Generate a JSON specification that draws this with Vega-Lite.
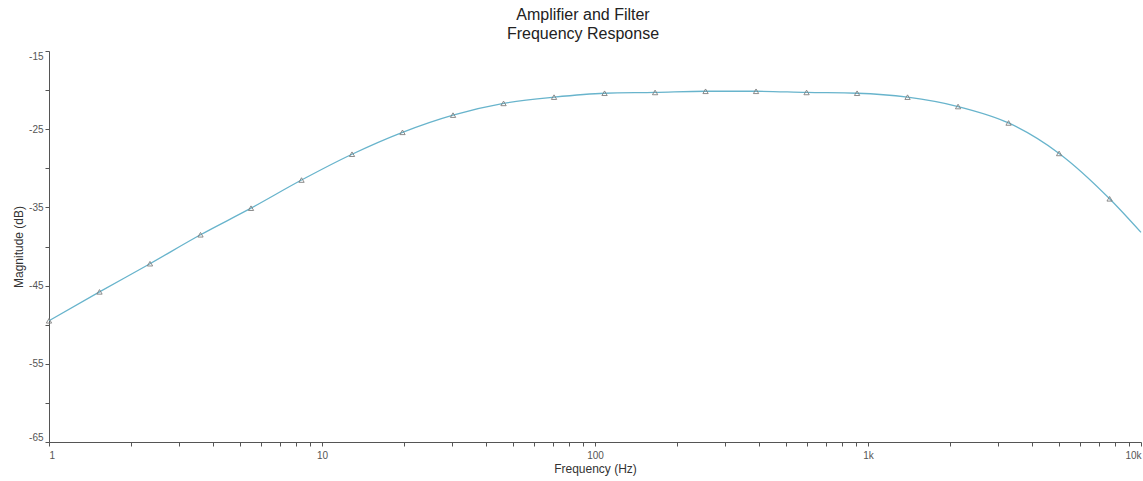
{
  "$schema": "https://vega.github.io/schema/vega-lite/v6.json",
  "width": 1092,
  "height": 391,
  "autosize": {"type": "none"},
  "padding": {"left": 49, "top": 51, "right": 2, "bottom": 39},
  "background": "white",
  "title": {
    "text": ["Amplifier and Filter", "Frequency Response"],
    "font": "Liberation Sans",
    "fontSize": 16,
    "fontWeight": "normal",
    "color": "#222222",
    "anchor": "middle",
    "dx": -12,
    "offset": 9,
    "lineHeight": 19
  },
  "config": {
    "view": {"stroke": null},
    "axis": {
      "labelFont": "Liberation Sans",
      "titleFont": "Liberation Sans",
      "labelColor": "#555555",
      "titleColor": "#333333",
      "labelFontSize": 10,
      "titleFontSize": 12,
      "titleFontWeight": "normal",
      "domainColor": "#555555",
      "tickColor": "#555555",
      "grid": false,
      "tickSize": 4
    }
  },
  "data": {
    "values": [
      {"freq": 1, "mag": -49.5, "marker": true},
      {"freq": 1.531, "mag": -45.8, "marker": true},
      {"freq": 2.344, "mag": -42.2, "marker": true},
      {"freq": 3.589, "mag": -38.5, "marker": true},
      {"freq": 5.495, "mag": -35.1, "marker": true},
      {"freq": 8.414, "mag": -31.5, "marker": true},
      {"freq": 12.88, "mag": -28.2, "marker": true},
      {"freq": 19.72, "mag": -25.4, "marker": true},
      {"freq": 30.2, "mag": -23.2, "marker": true},
      {"freq": 46.24, "mag": -21.7, "marker": true},
      {"freq": 70.79, "mag": -20.9, "marker": true},
      {"freq": 108.4, "mag": -20.4, "marker": true},
      {"freq": 166.0, "mag": -20.3, "marker": true},
      {"freq": 254.1, "mag": -20.15, "marker": true},
      {"freq": 389.0, "mag": -20.15, "marker": true},
      {"freq": 595.7, "mag": -20.3, "marker": true},
      {"freq": 912.0, "mag": -20.4, "marker": true},
      {"freq": 1396, "mag": -20.9, "marker": true},
      {"freq": 2138, "mag": -22.1, "marker": true},
      {"freq": 3273, "mag": -24.2, "marker": true},
      {"freq": 5012, "mag": -28.1, "marker": true},
      {"freq": 7674, "mag": -33.9, "marker": true},
      {"freq": 10000, "mag": -38.2, "marker": false}
    ]
  },
  "encoding": {
    "x": {
      "field": "freq",
      "type": "quantitative",
      "scale": {"type": "log", "domain": [1, 10000], "nice": false},
      "axis": {
        "title": "Frequency (Hz)",
        "values": [1,2,3,4,5,6,7,8,9,10,20,30,40,50,60,70,80,90,100,200,300,400,500,600,700,800,900,1000,2000,3000,4000,5000,6000,7000,8000,9000,10000],
        "labelExpr": "datum.value == 1 ? '1' : datum.value == 10 ? '10' : datum.value == 100 ? '100' : datum.value == 1000 ? '1k' : datum.value == 10000 ? '10k' : ''",
        "labelFlush": true,
        "labelPadding": 4,
        "titlePadding": 3
      }
    },
    "y": {
      "field": "mag",
      "type": "quantitative",
      "scale": {"domain": [-65, -15], "nice": false, "zero": false},
      "axis": {
        "title": "Magnitude (dB)",
        "values": [-65,-60,-55,-50,-45,-40,-35,-30,-25,-20,-15],
        "labelExpr": "(datum.value + 15) % 10 == 0 ? '' + datum.value : ''",
        "labelFlush": true,
        "labelPadding": 2,
        "titlePadding": 3
      }
    }
  },
  "layer": [
    {
      "mark": {"type": "line", "color": "#68b4cc", "strokeWidth": 1.3, "interpolate": "monotone"}
    },
    {
      "transform": [{"filter": "datum.marker"}],
      "mark": {"type": "point", "shape": "triangle-up", "filled": false, "stroke": "#808080", "strokeWidth": 0.9, "size": 28, "opacity": 1}
    }
  ]
}
